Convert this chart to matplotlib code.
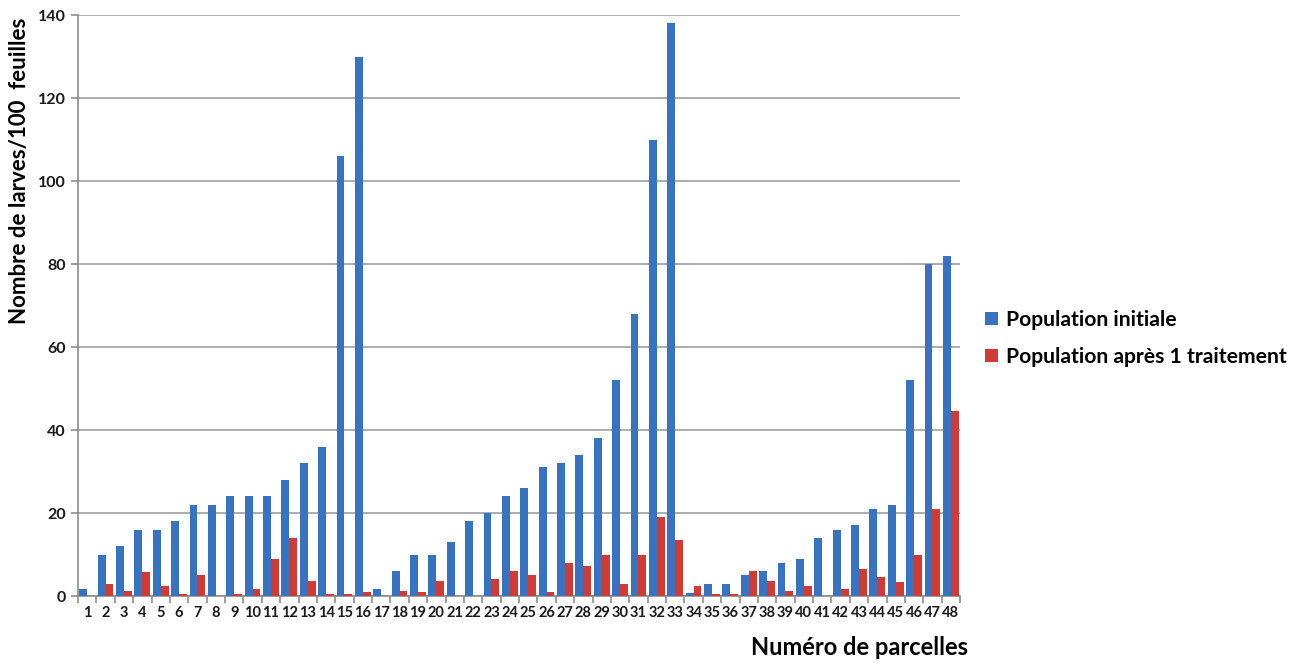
import matplotlib.pyplot as plt
import numpy as np

plt.rcParams['font.family'] = ['Lato', 'DejaVu Sans']

parcelles = [str(i) for i in range(1, 49)]
pop_initiale = [1.8, 10, 12, 16, 16, 18, 22, 22, 24, 24, 24, 28, 32, 36, 106, 130,
                1.8, 6, 10, 10, 13, 18, 20, 24, 26, 31, 32, 34, 38, 52, 68, 110,
                138, 0.8, 3, 3, 5, 6, 8, 9, 14, 16, 17, 21, 22, 52, 80, 82]
pop_traitement = [0, 3, 1.3, 5.7, 2.5, 0.5, 5, 0, 0.5, 1.7, 9, 14, 3.6, 0.5, 0.5, 1,
                  0, 1.3, 1, 3.7, 0, 0, 4, 6, 5, 1, 8, 7.2, 10, 3, 10, 19,
                  13.5, 2.5, 0.5, 0.5, 6, 3.6, 1.3, 2.5, 0, 1.7, 6.5, 4.5, 3.3, 10, 21, 44.5]
yticks = [0, 20, 40, 60, 80, 100, 120, 140]

fig = plt.figure(figsize=(13.11, 6.64), dpi=100)
ax = fig.add_axes([0.0595, 0.1024, 0.6728, 0.875])

x = np.arange(len(parcelles))
w = 0.43
ax.bar(x - w / 2, pop_initiale, width=w, color='#3873c2', label='Population initiale', zorder=3)
ax.bar(x + w / 2, pop_traitement, width=w, color='#d13b36', label='Population après 1 traitement', zorder=3)

ax.set_xlim(-0.5, len(parcelles) - 0.5)
ax.set_ylim(0, 140)
ax.set_yticks(yticks)
ax.set_yticklabels([str(v) for v in yticks], fontsize=11.5, fontweight='bold', color='#1a1a1a')
ax.yaxis.grid(True, color='#a0a0a0', linewidth=1.2, zorder=0)

ax.set_xticks(x)
ax.set_xticklabels(parcelles, fontsize=10.5, fontweight='bold', color='#1a1a1a')
ax.tick_params(axis='x', length=0, pad=7)
ax.set_xticks(np.arange(-0.5, len(parcelles)), minor=True)
ax.tick_params(axis='x', which='minor', length=5, color='#8c8c8c', width=1.2)
ax.tick_params(axis='y', length=5, color='#8c8c8c', width=1.2, pad=4)

for side in ['top', 'right']:
    ax.spines[side].set_visible(False)
for side in ['left', 'bottom']:
    ax.spines[side].set_color('#8c8c8c')
    ax.spines[side].set_linewidth(1.2)

fig.text(0.015, 0.742, 'Nombre de larves/100  feuilles', rotation=90, ha='center', va='center',
         fontsize=16, fontweight='bold')
fig.text(0.738, 0.025, 'Numéro de parcelles', ha='right', va='center',
         fontsize=17, fontweight='bold')

fig.legend(loc='center left', bbox_to_anchor=(0.737, 0.49), frameon=False,
           handlelength=0.6, handleheight=0.6, handletextpad=0.4, labelspacing=0.8,
           prop={'size': 15.2, 'weight': 'bold'})

fig.savefig('out.png', dpi=100)
